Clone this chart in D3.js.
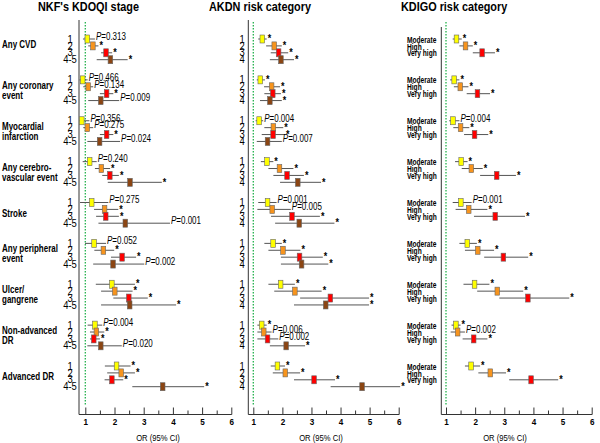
<!DOCTYPE html>
<html><head><meta charset="utf-8">
<script src="https://cdn.jsdelivr.net/npm/d3@7"></script>
<style>body{margin:0;background:#fff}svg{display:block}text{font-family:Arial,"Liberation Sans",sans-serif}</style>
</head><body>
<svg id="c" width="600" height="443"></svg>
<script>
// ---------- DATA ----------
const outcomes = ["Any CVD","Any coronary event","Myocardial infarction","Any cerebrovascular event","Stroke","Any peripheral event","Ulcer/gangrene","Non-advanced DR","Advanced DR"];
const outcomeLabels = [["Any CVD"],["Any coronary","event"],["Myocardial","infarction"],["Any cerebro-","vascular event"],["Stroke"],["Any peripheral","event"],["Ulcer/","gangrene"],["Non-advanced","DR"],["Advanced DR"]];

const kdoqiStages = ["1","2","3","4-5"];
const akdnCats = ["1","2","3","4"];
const kdigoCats = ["Moderate","High","Very high"];

const kdoqiOR = [[1.07,1.26,1.71,1.86],[0.91,1.10,1.73,1.53],[0.88,1.07,1.73,1.49],[1.15,1.55,1.84,2.53],[1.22,1.66,1.70,2.37],[1.30,1.62,2.26,1.95],[1.91,2.01,2.49,2.52],[1.33,1.38,1.29,1.53],[2.07,2.23,1.91,3.65]];
const kdoqiLo = [[0.92,1.10,1.54,1.39],[0.80,0.93,1.50,1.10],[0.76,0.93,1.50,1.07],[0.91,1.33,1.58,1.77],[0.82,1.30,1.37,1.45],[0.99,1.31,1.88,1.27],[1.36,1.54,1.96,1.54],[1.08,1.16,1.16,1.07],[1.67,1.75,1.66,2.61]];
const kdoqiHi = [[1.33,1.45,1.92,2.45],[1.08,1.27,1.96,2.16],[1.14,1.27,1.96,2.19],[1.39,1.85,2.15,3.62],[1.79,2.13,2.15,3.90],[1.71,1.99,2.74,3.02],[2.70,2.62,3.14,4.11],[1.58,1.65,1.50,2.25],[2.55,2.70,2.30,5.07]];
const kdoqiNote = [["0.313","*","*","*"],["0.466","0.134","*","0.009"],["0.356","0.275","*","0.024"],["0.240","*","*","*"],["0.275","*","*","0.001"],["0.052","*","*","0.002"],["*","*","*","*"],["0.004","*","*","0.020"],["*","*","*","*"]];

const akdnOR = [[1.31,1.72,1.87,1.95],[1.24,1.63,1.67,1.57],[1.20,1.69,1.68,1.49],[1.47,1.90,2.16,2.53],[1.49,1.65,2.33,2.58],[1.68,2.02,2.59,2.66],[1.94,2.43,3.65,3.49],[1.29,1.36,1.49,2.13],[1.83,2.10,3.09,4.74]];
const akdnLo = [[1.17,1.44,1.60,1.57],[1.12,1.37,1.38,1.23],[1.08,1.38,1.29,1.12],[1.26,1.52,1.69,1.92],[1.17,1.14,1.61,1.75],[1.38,1.52,1.95,1.95],[1.52,1.72,2.61,2.40],[1.14,1.14,1.14,1.57],[1.60,1.67,2.40,3.66]];
const akdnHi = [[1.46,1.98,2.20,2.40],[1.40,1.92,1.95,1.98],[1.34,2.03,2.09,1.98],[1.69,2.38,2.74,3.33],[1.80,2.29,3.29,3.79],[1.98,2.62,3.39,3.58],[2.43,3.35,4.98,4.98],[1.46,1.63,1.86,2.78],[2.09,2.61,3.81,6.05]];
const akdnNote = [["*","*","*","*"],["*","*","*","*"],["0.004","*","*","0.007"],["*","*","*","*"],["0.001","0.005","*","*"],["*","*","*","*"],["*","*","*","*"],["*","0.006","0.002","*"],["*","*","*","*"]];

const kdigoOR = [[1.36,1.67,2.24],[1.28,1.49,2.08],[1.24,1.50,1.98],[1.52,1.87,2.74],[1.51,1.78,2.69],[1.73,2.09,2.97],[1.98,2.76,3.81],[1.34,1.40,1.95],[1.86,2.52,3.92]];
const kdigoLo = [[1.23,1.46,1.92],[1.14,1.27,1.71],[1.11,1.25,1.62],[1.31,1.54,2.17],[1.23,1.33,1.96],[1.46,1.65,2.31],[1.60,2.07,2.83],[1.19,1.16,1.57],[1.65,2.11,3.17]];
const kdigoHi = [[1.54,1.92,2.68],[1.46,1.77,2.51],[1.46,1.80,2.45],[1.74,2.26,3.40],[1.88,2.42,3.71],[2.06,2.65,3.82],[2.49,3.65,5.23],[1.50,1.65,2.42],[2.17,3.06,4.85]];
const kdigoNote = [["*","*","*"],["*","*","*"],["0.004","*","*"],["*","*","*"],["0.001","*","*"],["*","*","*"],["*","*","*"],["*","0.002","*"],["*","*","*"]];

const xTickValues = [1,2,3,4,5,6];
const xMinorTicks = [1.5,2.5,3.5,4.5,5.5];
const titles = ["NKF's KDOQI stage","AKDN risk category","KDIGO risk category"];
const xAxisTitle = "OR (95% CI)";

// ---------- STYLE / LAYOUT ----------
const colors4 = ["#ffff00","#f7941d","#ff0000","#8b4513"];
const colors3 = ["#ffff00","#f7941d","#ff0000"];

const panels = [
  {title:titles[0], cats:kdoqiStages, or:kdoqiOR, lo:kdoqiLo, hi:kdoqiHi, note:kdoqiNote, colors:colors4,
   axisX:79, x1:85.3, x6:231.3, top:20, titleX:38, catX:70, catAnchor:"middle", catSize:10.5, catWeight:"normal", orX:158},
  {title:titles[1], cats:akdnCats, or:akdnOR, lo:akdnLo, hi:akdnHi, note:akdnNote, colors:colors4,
   axisX:248.3, x1:253.3, x6:398.7, top:20, titleX:209, catX:242, catAnchor:"middle", catSize:10.5, catWeight:"normal", orX:321},
  {title:titles[2], cats:kdigoCats, or:kdigoOR, lo:kdigoLo, hi:kdigoHi, note:kdigoNote, colors:colors3,
   axisX:441.3, x1:446, x6:591.7, top:27, titleX:401, catX:407, catAnchor:"start", catSize:8.5, catWeight:"bold", orX:505}
];

const svg = d3.select("#c");
const baseY = 414.5;
const yGroup = d3.scalePoint().domain(outcomes).range([39, 366]);
const rowStep = 6.9;

function ctext(sel, x, y, str, size, weight, anchor, sx) {
  return sel.append("text")
    .attr("transform", `translate(${x},${y}) scale(${sx},1)`)
    .attr("font-size", size).attr("font-weight", weight)
    .attr("text-anchor", anchor).attr("fill", "#000").text(str);
}

// outcome labels
outcomes.forEach((o, i) => {
  const gc = yGroup(o) + 10.5 - (i === 0 ? 5.5 : 0);
  const lines = outcomeLabels[i];
  lines.forEach((ln, k) => {
    const cy = gc + (k - (lines.length - 1) / 2) * 10;
    ctext(svg, 2, cy + 3.6, ln, 10, "bold", "start", 0.8);
  });
});

panels.forEach(p => {
  const g = svg.append("g");
  const x = d3.scaleLinear().domain([1, 6]).range([p.x1, p.x6]);
  const yRow = d3.scalePoint().domain(p.cats).range([0, rowStep * (p.cats.length - 1)]);

  ctext(g, p.titleX, 11, p.title, 12.5, "bold", "start", 0.87);

  // reference line at OR = 1
  g.append("line").attr("x1", x(1)).attr("x2", x(1)).attr("y1", 22).attr("y2", 405)
    .attr("stroke", "#22b14c").attr("stroke-width", 1.3).attr("stroke-dasharray", "1.5,1.5");

  // vertical axis line and baseline
  g.append("line").attr("x1", p.axisX).attr("x2", p.axisX).attr("y1", p.top).attr("y2", baseY)
    .attr("stroke", "#333").attr("stroke-width", 1);
  g.append("line").attr("x1", p.axisX).attr("x2", x(6) + 0.5).attr("y1", baseY).attr("y2", baseY)
    .attr("stroke", "#333").attr("stroke-width", 1);

  // major ticks with labels
  const ax = g.append("g").attr("transform", `translate(0,${baseY})`)
    .call(d3.axisBottom(x).tickValues(xTickValues).tickSize(-7).tickSizeOuter(0).tickPadding(4.5).tickFormat(d3.format("d")));
  ax.select(".domain").remove();
  ax.selectAll(".tick line").attr("stroke", "#333");
  ax.selectAll(".tick text").attr("font-size", 9).attr("font-weight", "bold")
    .attr("font-family", "Arial, 'Liberation Sans', sans-serif").attr("fill", "#000")
    .attr("transform", "scale(0.9,1)");
  // minor ticks
  const mx = g.append("g").attr("transform", `translate(0,${baseY})`)
    .call(d3.axisBottom(x).tickValues(xMinorTicks).tickSize(-4).tickSizeOuter(0).tickFormat(""));
  mx.select(".domain").remove();
  mx.selectAll(".tick line").attr("stroke", "#333");

  ctext(g, p.orX, 441, xAxisTitle, 9, "normal", "middle", 0.85);

  outcomes.forEach((o, i) => {
    const gy = yGroup(o);
    p.cats.forEach((c, j) => {
      const y = gy + yRow(c);
      const lo = Math.max(p.lo[i][j], x.invert(p.axisX));
      g.append("line").attr("x1", x(lo)).attr("x2", x(p.hi[i][j])).attr("y1", y).attr("y2", y)
        .attr("stroke", "#555").attr("stroke-width", 1);
    });
  });
  outcomes.forEach((o, i) => {
    const gy = yGroup(o);
    p.cats.forEach((c, j) => {
      const y = gy + yRow(c);
      g.append("rect").attr("x", x(p.or[i][j]) - 2.3).attr("y", y - 4).attr("width", 4.6).attr("height", 8)
        .attr("fill", p.colors[j]).attr("stroke", "#666").attr("stroke-width", 0.6);
      const n = p.note[i][j];
      const hx = x(p.hi[i][j]);
      if (n === "*") {
        ctext(g, hx + 1, y + 3.2, "*", 10, "bold", "start", 0.9);
      } else {
        const t = g.append("text").attr("transform", `translate(${hx + 1},${y + 0.8}) scale(0.8,1)`)
          .attr("font-size", 10).attr("fill", "#000");
        t.append("tspan").attr("font-style", "italic").text("P");
        t.append("tspan").text("=" + n);
      }
      // category label
      ctext(g, p.catX, y + 3.6, c, p.catSize, p.catWeight, p.catAnchor, p.catAnchor === "start" ? 0.78 : 0.9);
    });
  });
});
</script>
</body></html>
